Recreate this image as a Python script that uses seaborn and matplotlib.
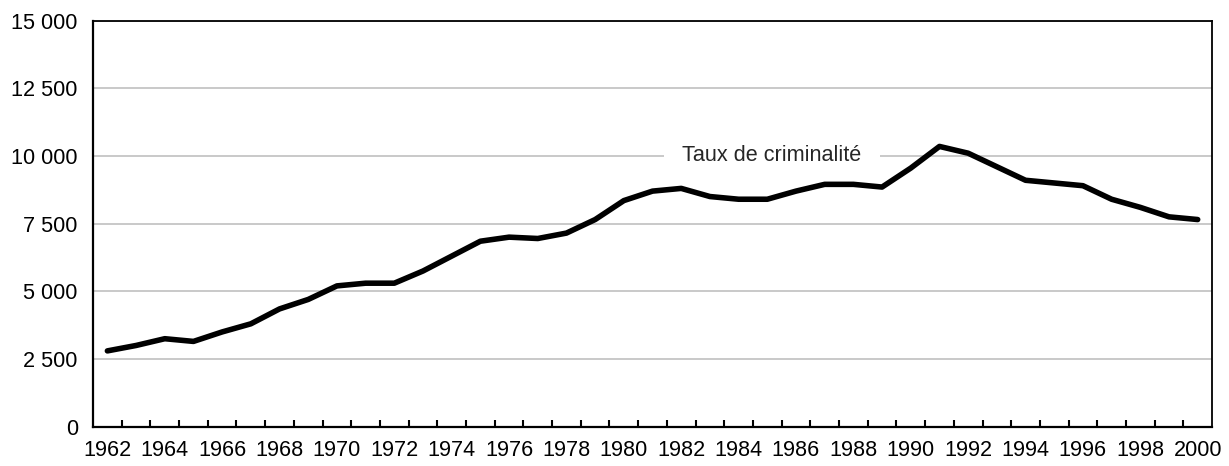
import matplotlib
matplotlib.use("Agg")
import matplotlib.pyplot as plt
from matplotlib.ticker import FuncFormatter, MultipleLocator, FixedLocator
import pandas as pd
import seaborn as sns

# Taux de criminalite, 1962-2000
years = list(range(1962, 2001))
rates = [2800, 3000, 3250, 3150, 3500, 3800, 4350, 4700, 5200, 5300,
         5300, 5750, 6300, 6850, 7000, 6950, 7150, 7650, 8350, 8700,
         8800, 8500, 8400, 8400, 8700, 8950, 8950, 8850, 9550, 10350,
         10100, 9600, 9100, 9000, 8900, 8400, 8100, 7750, 7650]
label = "Taux de criminalité"

df = pd.DataFrame({"annee": years, "taux": rates})

sns.set_style("white")
plt.rcParams['font.family'] = ['Liberation Sans', 'DejaVu Sans']

fig = plt.figure(figsize=(12.29, 4.66), dpi=100)
ax = fig.add_axes([0.0757, 0.0843, 0.9105, 0.8717])

sns.lineplot(data=df, x="annee", y="taux", color="black", linewidth=4.0,
             ax=ax, legend=False, zorder=3, solid_capstyle="round",
             solid_joinstyle="round")

ax.set_xlim(1961.5, 2000.5)
ax.set_ylim(0, 15000)

# y axis
ax.yaxis.set_major_locator(MultipleLocator(2500))
ax.yaxis.set_major_formatter(FuncFormatter(lambda v, p: f"{int(v):,}".replace(",", " ")))
ax.tick_params(axis="y", length=0, pad=11, labelsize=15.6, colors="black")
ax.grid(axis="y", color="#c0c0c0", linewidth=1.2)
ax.set_axisbelow(True)

# x axis: labels every two years, tick marks between categories
ax.xaxis.set_major_locator(FixedLocator(years[::2]))
ax.xaxis.set_minor_locator(FixedLocator([y + 0.5 for y in years[:-1]]))
ax.tick_params(axis="x", which="major", length=0, pad=9.5, labelsize=15.6, colors="black")
ax.tick_params(axis="x", which="minor", direction="in", length=5, width=1.5,
               bottom=True, color="black")

ax.set_xlabel("")
ax.set_ylabel("")

for side in ["left", "right", "top", "bottom"]:
    ax.spines[side].set_visible(True)
    ax.spines[side].set_color("black")
ax.spines["left"].set_linewidth(1.6)
ax.spines["bottom"].set_linewidth(1.6)
ax.spines["right"].set_linewidth(1.3)
ax.spines["top"].set_linewidth(1.3)

ax.text(1985.16, 10000, label, ha="center", va="center", fontsize=15.6,
        zorder=2.5,
        bbox=dict(boxstyle="square,pad=0.85", fc="white", ec="none"))

fig.savefig("out.png", dpi=100)
